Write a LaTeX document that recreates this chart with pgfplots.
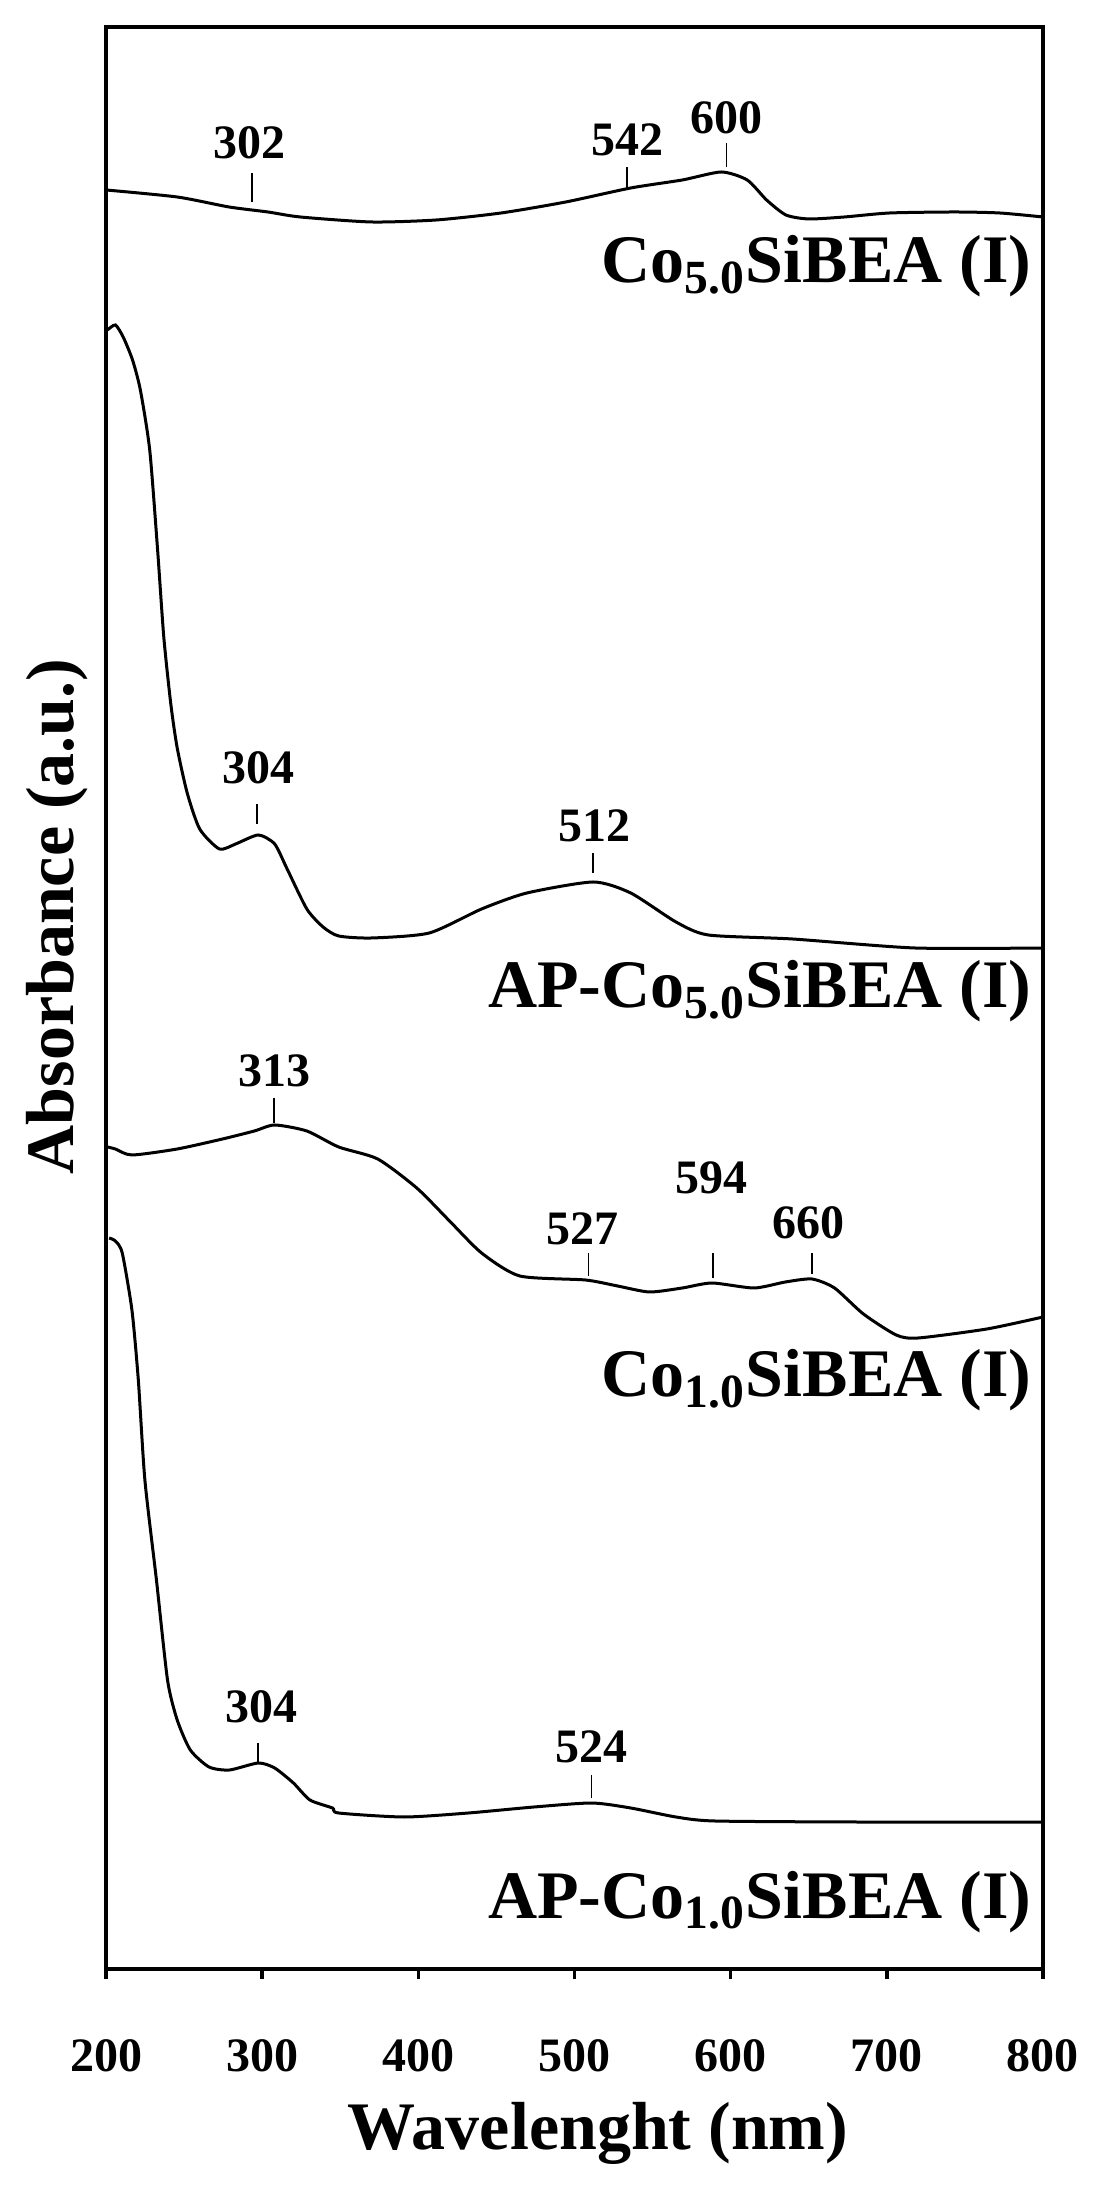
\documentclass[border=0pt]{standalone}
\usepackage{fontspec}
\setmainfont{Liberation Serif}
\usepackage{pgfplots}
\pgfplotsset{compat=1.18}

\newcommand{\peakfont}{\fontsize{12}{14}\selectfont\bfseries}
\newcommand{\bigfont}{\fontsize{17}{20}\selectfont\bfseries}
\tikzset{
    curve/.style={black,line width=0.75pt,no markers,smooth,tension=0.4},
    peak/.style={black,line width=0.4pt,no markers,sharp plot},
    lbl/.style={font=\peakfont,inner sep=0pt,anchor=center},
    sname/.style={font=\bigfont,inner sep=0pt,anchor=base east},
}

\begin{document}
\begin{tikzpicture}
\begin{axis}[
    scale only axis,
    width=234.25pt,
    height=485.5pt,
    xmin=200, xmax=800,
    ymin=0, ymax=1942,
    xtick={200,300,...,800},
    ytick=\empty,
    xtick pos=bottom,
    tick align=outside,
    major tick length=2.5pt,
    axis line style={line width=0.9pt},
    every tick/.style={black,line width=0.9pt},
    /pgf/number format/assume math mode=true,
    xticklabel style={font=\peakfont,anchor=base,yshift=-23pt},
    xlabel={Wavelenght (nm)},
    ylabel={Absorbance (a.u.)},
    label style={font=\bigfont},
    xlabel style={at={(axis description cs:0.525,-0.0932)},anchor=base},
    ylabel style={at={(axis description cs:-0.0523,0.542)},anchor=center},
    clip=false,
]
\coordinate (sw) at (rel axis cs:0,0);

% Co5.0SiBEA (I)
\addplot[curve] coordinates {(200,1779) (245.6,1772) (278.8,1762) (303.7,1757) (324.4,1752)
  (370,1747) (411.5,1749) (453,1756) (494.4,1767) (536,1781) (569,1789) (594,1797)
  (610.6,1789) (623,1769) (635.4,1754) (650,1750) (672.8,1752) (701.8,1756)
  (743.3,1757) (772.3,1756) (800,1752)};

% AP-Co5.0SiBEA (I)
\addplot[curve] coordinates {(201,1639) (206,1644) (211,1632) (217,1609) (222,1579) (228,1519)
  (233,1420) (237,1332) (241.5,1265) (245.6,1221) (252,1176) (260,1140) (272.6,1120)
  (283,1125) (297.5,1134) (308,1125) (316,1100) (328.6,1060) (339,1042) (349,1033)
  (370,1031) (407,1036) (440.5,1060) (469.5,1076) (512,1087) (536,1076) (565,1047)
  (585.7,1034) (639.6,1030) (718,1021) (800,1021)};

% Co1.0SiBEA (I)
\addplot[curve] coordinates {(201,822) (206,820) (216.6,814) (245.6,820) (274.6,830) (295,838)
  (308,844) (328.6,838) (349,822) (374,810) (399,781) (420,748) (440.5,716) (465,693)
  (507,689) (527.6,683) (548,677) (569,681) (588,686) (615,681) (635,687) (652,690)
  (666.5,681) (685,655) (706,634) (720,631) (764,640) (800,652)};

% AP-Co1.0SiBEA (I)
\addplot[curve] coordinates {(202,731) (206,728) (210.4,716) (216.6,659) (220.7,589)
  (224.9,489) (232.3,389) (239.4,289) (245.6,249) (254,219) (266,202) (279,199)
  (297.5,206) (308,201) (320,186) (330.6,169) (345,161) (349,156) (391,152) (432,156)
  (474,162) (511,166) (536,161) (565,152) (590,148) (681,147) (800,147)};

% peak markers
\addplot[peak] coordinates {(293.3,1767) (293.3,1796)};
\addplot[peak] coordinates {(533.8,1781) (533.8,1802)};
\addplot[peak] coordinates {(597.3,1802) (597.3,1826)};
\addplot[peak] coordinates {(296.6,1145) (296.6,1165)};
\addplot[peak] coordinates {(512,1096) (512,1116)};
\addplot[peak] coordinates {(307.6,846) (307.6,871)};
\addplot[peak] coordinates {(509,693) (509,716)};
\addplot[peak] coordinates {(588.6,691) (588.6,716)};
\addplot[peak] coordinates {(652,695) (652,716)};
\addplot[peak] coordinates {(297.5,207) (297.5,226)};
\addplot[peak] coordinates {(511,171) (511,194)};

\node[lbl] at (axis cs:292,1826) {302};
\node[lbl] at (axis cs:533.8,1829) {542};
\node[lbl] at (axis cs:597.3,1851) {600};
\node[lbl] at (axis cs:297.5,1201) {304};
\node[lbl] at (axis cs:513,1143) {512};
\node[lbl] at (axis cs:308,898) {313};
\node[lbl] at (axis cs:505,740) {527};
\node[lbl] at (axis cs:587.7,791) {594};
\node[lbl] at (axis cs:650,746) {660};
\node[lbl] at (axis cs:299.5,262) {304};
\node[lbl] at (axis cs:511,222) {524};

\node[sname] at (axis cs:793,1686) {Co\textsubscript{5.0}SiBEA (I)};
\node[sname] at (axis cs:793,961) {AP-Co\textsubscript{5.0}SiBEA (I)};
\node[sname] at (axis cs:793,572) {Co\textsubscript{1.0}SiBEA (I)};
\node[sname] at (axis cs:793,51) {AP-Co\textsubscript{1.0}SiBEA (I)};
\end{axis}
\path (sw) ++(-26.5pt,-56.5pt) rectangle ++(274pt,548.75pt);
\end{tikzpicture}
\end{document}
